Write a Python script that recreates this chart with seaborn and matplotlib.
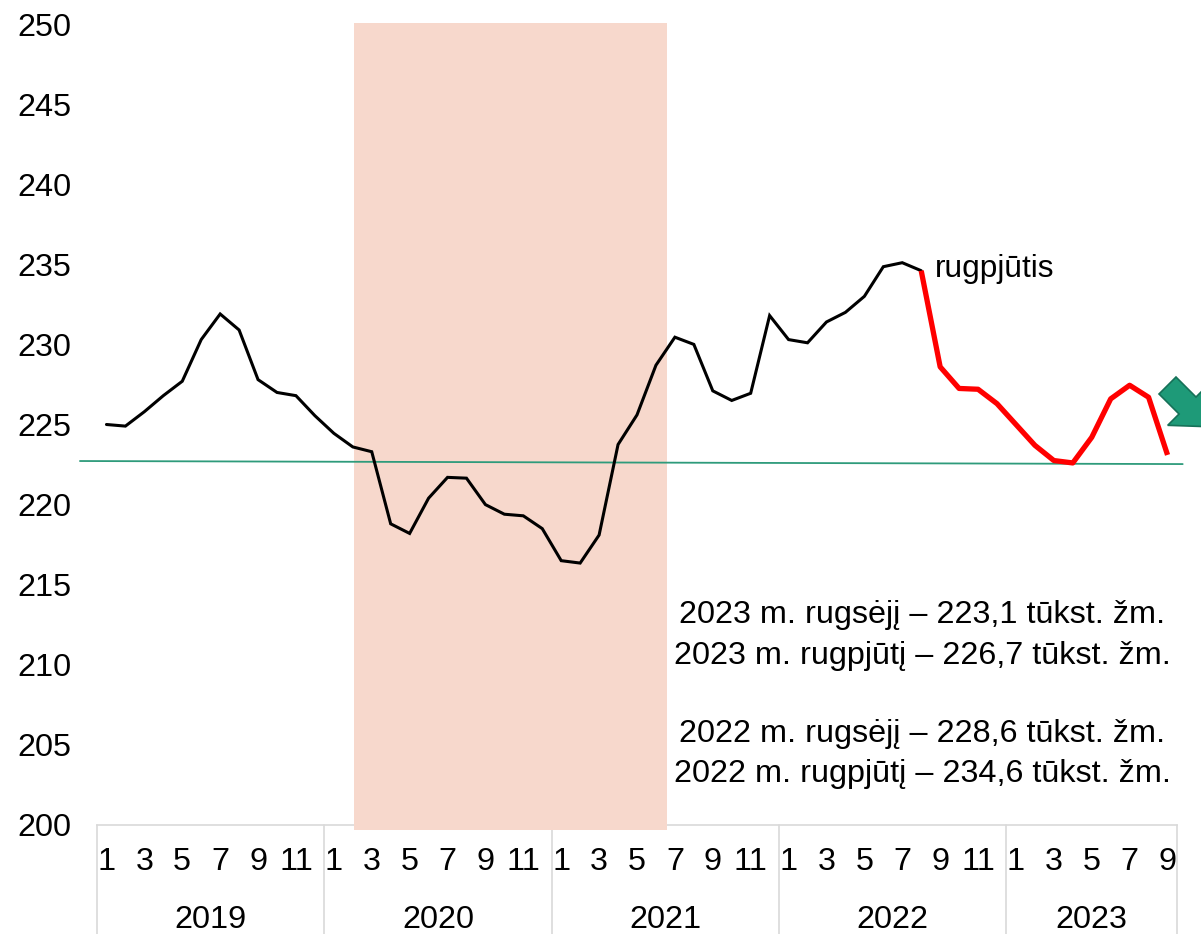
import numpy as np
import pandas as pd
import matplotlib
matplotlib.use("Agg")
import matplotlib.pyplot as plt
import seaborn as sns
from matplotlib.patches import Polygon
from matplotlib.transforms import blended_transform_factory

# ---------------- data ----------------
years = [2019, 2020, 2021, 2022, 2023]
months_in_year = [12, 12, 12, 12, 9]
employed = [
    225.0, 224.9, 225.8, 226.8, 227.7, 230.3, 231.9, 230.9, 227.8, 227.0, 226.8, 225.55,   # 2019
    224.45, 223.6, 223.3, 218.8, 218.2, 220.4, 221.7, 221.65, 220.0, 219.4, 219.3, 218.5,  # 2020
    216.5, 216.35, 218.1, 223.75, 225.6, 228.7, 230.45, 230.0, 227.1, 226.5, 226.95, 231.8,# 2021
    230.3, 230.1, 231.4, 232.0, 233.0, 234.85, 235.1, 234.6, 228.6, 227.25, 227.2, 226.3,  # 2022
    225.0, 223.7, 222.75, 222.6, 224.2, 226.6, 227.45, 226.7, 223.1,                       # 2023
]
highlight_from = 43          # 2022 August
ref_line = [222.72, 222.53]  # green reference line (start, end)
shade_start, shade_end = 13.05, 29.6

months = [m for n in months_in_year for m in range(1, n + 1)]
df = pd.DataFrame({"idx": np.arange(len(employed)), "value": employed})

# ---------------- style ----------------
sns.set_theme(style="white")
plt.rcParams["font.family"] = ["Liberation Sans", "DejaVu Sans"]
plt.rcParams["text.color"] = "black"
plt.rcParams["xtick.color"] = "black"
plt.rcParams["ytick.color"] = "black"
FS = 23.3
W, H = 1201, 934

fig = plt.figure(figsize=(W / 100, H / 100), dpi=100)
ax = fig.add_axes([97 / W, 1 - 825 / H, 1080 / W, 801 / H])
ax.set_facecolor("white")

# shaded period
ax.fill_between([shade_start, shade_end], 199.7, 250.06, color="#F7D8CC",
                linewidth=0, zorder=3, clip_on=False)

# reference line
ax.plot([-1.4, 56.8], ref_line, color="#2E9B7B", lw=1.3, zorder=3.5, clip_on=False)

# lines
sns.lineplot(data=df[df.idx <= highlight_from], x="idx", y="value", color="black",
             lw=2.2, ax=ax, zorder=4, solid_joinstyle="miter")
sns.lineplot(data=df[df.idx >= highlight_from], x="idx", y="value", color="#FF0000",
             lw=3.8, ax=ax, zorder=5, solid_capstyle="butt")

ax.set_xlim(-0.5, len(employed) - 0.5)
ax.set_ylim(200, 250)
ax.set_xlabel("")
ax.set_ylabel("")

for s in ["top", "right", "left"]:
    ax.spines[s].set_visible(False)
ax.spines["bottom"].set_color("#D9D9D9")
ax.spines["bottom"].set_linewidth(1.2)

ax.set_yticks(range(200, 251, 5))
ax.set_yticklabels([str(v) for v in range(200, 251, 5)], fontsize=FS)
ax.tick_params(axis="y", length=0, pad=57.6, labelcolor="black")
for lbl in ax.get_yticklabels():
    lbl.set_horizontalalignment("left")

ax.set_xticks(range(len(employed)))
ax.set_xticklabels([str(m) if m % 2 == 1 else "" for m in months], fontsize=FS)
ax.tick_params(axis="x", length=0, pad=15.5, labelcolor="black")

trans = blended_transform_factory(ax.transData, ax.transAxes)
bounds = np.concatenate([[0], np.cumsum(months_in_year)]) - 0.5
for b in bounds:
    ax.plot([b, b], [0, -0.15], transform=trans, color="#D9D9D9", lw=1.2, clip_on=False)
for y, a, b in zip(years, bounds[:-1], bounds[1:]):
    ax.text((a + b) / 2, -0.1292, str(y), transform=trans, ha="center",
            va="baseline", fontsize=FS, color="black")

# annotation at August 2022
ax.annotate("rugpjūtis", xy=(highlight_from, employed[highlight_from]),
            xytext=(10, -4.3), textcoords="offset points", ha="left",
            va="baseline", fontsize=FS - 0.5, zorder=6, color="black")

def fmt(v):
    return f"{v:.1f}".replace(".", ",")

info = [
    (2023, "rugsėjį", employed[56], 0.2516),
    (2023, "rugpjūtį", employed[55], 0.2016),
    (2022, "rugsėjį", employed[44], 0.1030),
    (2022, "rugpjūtį", employed[43], 0.0531),
]
for yr, mname, v, yy in info:
    ax.text(0.764, yy, f"{yr} m. {mname} – {fmt(v)} tūkst. žm.", transform=ax.transAxes,
            ha="center", va="baseline", fontsize=FS, zorder=6, color="black")

# green arrow at right edge (pointing down-right)
u = np.array([1, 1]) / np.sqrt(2)
n = np.array([1, -1]) / np.sqrt(2)
T = np.array([1167.5, 385.5])
w, hw, L, Lh = 12, 28, 28.3, 30
pts_px = [T + n * w, T + n * w + u * L, T + n * hw + u * L, T + u * (L + Lh),
          T - n * hw + u * L, T - n * w + u * L, T - n * w]
pts = [(p[0] / W, 1 - p[1] / H) for p in pts_px]
fig.add_artist(Polygon(pts, closed=True, facecolor="#1E9A78", edgecolor="#167158",
                       lw=1.2, transform=fig.transFigure))

fig.savefig("out.png", dpi=100)
